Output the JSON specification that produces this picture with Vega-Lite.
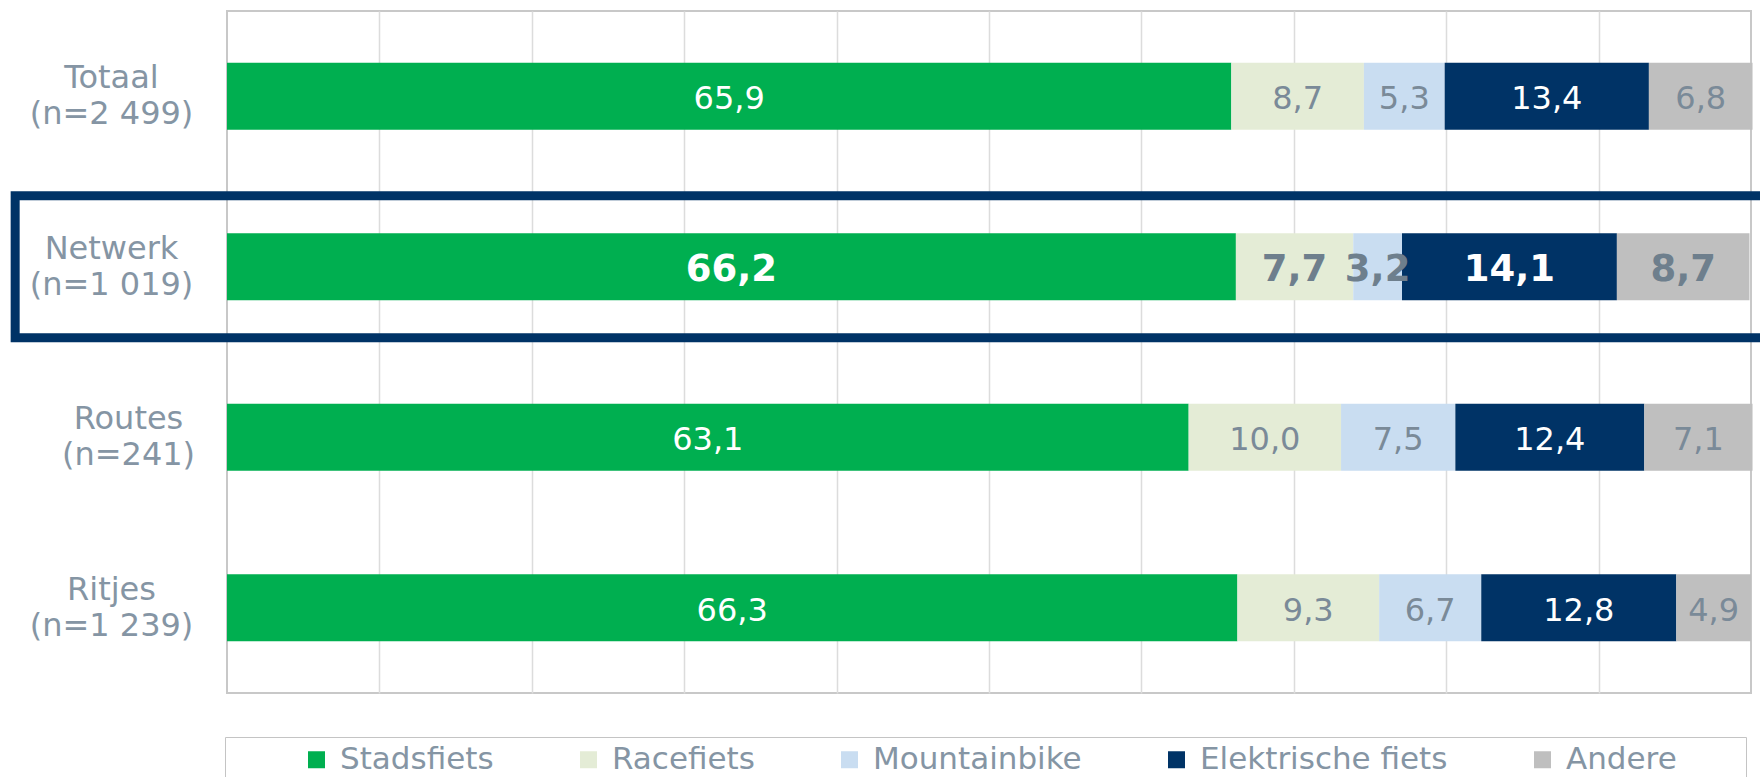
{
  "$schema": "https://vega.github.io/schema/vega-lite/v6.json",
  "width": 1524,
  "height": 682,
  "autosize": {"type": "none"},
  "padding": {"left": 227, "top": 11, "right": 9, "bottom": 84},
  "config": {
    "font": "DejaVu Sans",
    "view": {"stroke": "#c8c8c8", "strokeWidth": 2},
    "locale": {"number": {"decimal": ",", "thousands": " ", "grouping": [3], "currency": ["", " €"]}}
  },
  "layer": [
    {
      "data": {
        "values": [
          {"cat": "Totaal\n(n=2 499)", "group": "Totaal", "type": "Stadsfiets", "ord": 1, "value": 65.9},
          {"cat": "Totaal\n(n=2 499)", "group": "Totaal", "type": "Racefiets", "ord": 2, "value": 8.7},
          {"cat": "Totaal\n(n=2 499)", "group": "Totaal", "type": "Mountainbike", "ord": 3, "value": 5.3},
          {"cat": "Totaal\n(n=2 499)", "group": "Totaal", "type": "Elektrische fiets", "ord": 4, "value": 13.4},
          {"cat": "Totaal\n(n=2 499)", "group": "Totaal", "type": "Andere", "ord": 5, "value": 6.8},
          {"cat": "Netwerk\n(n=1 019)", "group": "Netwerk", "type": "Stadsfiets", "ord": 1, "value": 66.2},
          {"cat": "Netwerk\n(n=1 019)", "group": "Netwerk", "type": "Racefiets", "ord": 2, "value": 7.7},
          {"cat": "Netwerk\n(n=1 019)", "group": "Netwerk", "type": "Mountainbike", "ord": 3, "value": 3.2},
          {"cat": "Netwerk\n(n=1 019)", "group": "Netwerk", "type": "Elektrische fiets", "ord": 4, "value": 14.1},
          {"cat": "Netwerk\n(n=1 019)", "group": "Netwerk", "type": "Andere", "ord": 5, "value": 8.7},
          {"cat": "Routes\n(n=241)", "group": "Routes", "type": "Stadsfiets", "ord": 1, "value": 63.1},
          {"cat": "Routes\n(n=241)", "group": "Routes", "type": "Racefiets", "ord": 2, "value": 10.0},
          {"cat": "Routes\n(n=241)", "group": "Routes", "type": "Mountainbike", "ord": 3, "value": 7.5},
          {"cat": "Routes\n(n=241)", "group": "Routes", "type": "Elektrische fiets", "ord": 4, "value": 12.4},
          {"cat": "Routes\n(n=241)", "group": "Routes", "type": "Andere", "ord": 5, "value": 7.1},
          {"cat": "Ritjes\n(n=1 239)", "group": "Ritjes", "type": "Stadsfiets", "ord": 1, "value": 66.3},
          {"cat": "Ritjes\n(n=1 239)", "group": "Ritjes", "type": "Racefiets", "ord": 2, "value": 9.3},
          {"cat": "Ritjes\n(n=1 239)", "group": "Ritjes", "type": "Mountainbike", "ord": 3, "value": 6.7},
          {"cat": "Ritjes\n(n=1 239)", "group": "Ritjes", "type": "Elektrische fiets", "ord": 4, "value": 12.8},
          {"cat": "Ritjes\n(n=1 239)", "group": "Ritjes", "type": "Andere", "ord": 5, "value": 4.9}
        ]
      },
      "transform": [
        {"stack": "value", "groupby": ["cat"], "sort": [{"field": "ord", "order": "ascending"}], "as": ["x0", "x1"]},
        {"calculate": "(datum.x0 + datum.x1) / 2", "as": "mid"}
      ],
      "layer": [
        {
          "mark": {"type": "bar"},
          "encoding": {
            "y": {
              "field": "cat",
              "type": "nominal",
              "scale": {
                "domain": ["Totaal\n(n=2 499)", "Netwerk\n(n=1 019)", "Routes\n(n=241)", "Ritjes\n(n=1 239)"],
                "paddingInner": 0.607,
                "paddingOuter": 0.3035
              },
              "axis": {
                "title": null,
                "domain": false,
                "ticks": false,
                "tickSize": 0,
                "grid": false,
                "labelExpr": "split(datum.label, '\\n')",
                "labelFont": "DejaVu Sans",
                "labelFontSize": 32,
                "labelLineHeight": 36,
                "labelOffset": -18,
                "labelColor": "#8595a4",
                "labelAlign": "center",
                "labelBaseline": "middle",
                "labelLimit": 400,
                "labelPadding": {"condition": {"test": "indexof(datum.value, 'Routes') == 0", "value": 99}, "value": 116}
              }
            },
            "x": {
              "field": "x0",
              "type": "quantitative",
              "scale": {"domain": [0, 100], "nice": false},
              "axis": {
                "title": null,
                "labels": false,
                "ticks": false,
                "domain": false,
                "grid": true,
                "values": [10, 20, 30, 40, 50, 60, 70, 80, 90],
                "gridColor": "#dcdcdc",
                "gridWidth": 1.5
              }
            },
            "x2": {"field": "x1"},
            "color": {
              "field": "type",
              "type": "nominal",
              "scale": {
                "domain": ["Stadsfiets", "Racefiets", "Mountainbike", "Elektrische fiets", "Andere"],
                "range": ["#00AF50", "#E4ECD6", "#C9DDF1", "#003366", "#BFBFBF"]
              },
              "legend": {
                "orient": "none",
                "legendX": -2,
                "legendY": 726,
                "direction": "horizontal",
                "columns": 5,
                "columnPadding": 79,
                "symbolType": "square",
                "symbolSize": 289,
                "symbolStrokeWidth": 0,
                "labelFont": "DejaVu Sans",
                "labelFontSize": 31,
                "labelColor": "#8595a4",
                "labelOffset": 8,
                "labelLimit": 500,
                "labelExpr": "datum.value == 'Andere' ? 'Andere\u2003\u2003\u200b' : datum.label",
                "padding": 7,
                "strokeColor": "#c4c4c4",
                "title": " ",
                "titleOrient": "left",
                "titleFontSize": 10,
                "titlePadding": 69
              }
            }
          }
        },
        {
          "transform": [{"filter": "datum.group != 'Netwerk'"}],
          "mark": {"type": "text", "font": "DejaVu Sans", "fontSize": 32, "align": "center", "baseline": "middle", "dy": 3},
          "encoding": {
            "y": {"field": "cat", "type": "nominal"},
            "x": {"field": "mid", "type": "quantitative"},
            "text": {"field": "value", "type": "quantitative", "format": ".1f"},
            "color": {"condition": {"test": "datum.type == 'Stadsfiets' || datum.type == 'Elektrische fiets'", "value": "#ffffff"}, "value": "#7a8a98"}
          }
        },
        {
          "transform": [{"filter": "datum.group == 'Netwerk'"}],
          "mark": {"type": "text", "font": "DejaVu Sans", "fontSize": 37, "fontWeight": "bold", "align": "center", "baseline": "middle", "dy": 3},
          "encoding": {
            "y": {"field": "cat", "type": "nominal"},
            "x": {"field": "mid", "type": "quantitative"},
            "text": {"field": "value", "type": "quantitative", "format": ".1f"},
            "color": {"condition": {"test": "datum.type == 'Stadsfiets' || datum.type == 'Elektrische fiets'", "value": "#ffffff"}, "value": "#6e7f8d"}
          }
        }
      ]
    },
    {
      "data": {"values": [{"cat": "Netwerk\n(n=1 019)"}]},
      "mark": {"type": "bar", "fillOpacity": 0, "stroke": "#003366", "strokeWidth": 9, "height": {"band": 2.12}},
      "encoding": {
        "y": {"field": "cat", "type": "nominal"},
        "x": {"datum": -13.9},
        "x2": {"datum": 103}
      }
    }
  ]
}
